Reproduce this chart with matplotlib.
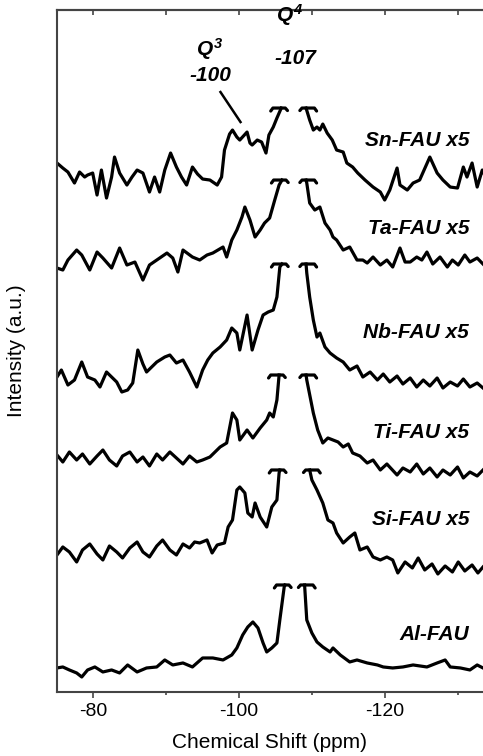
import matplotlib.pyplot as plt
from matplotlib.ticker import MultipleLocator

plt.rcParams['font.family'] = ['Liberation Sans', 'DejaVu Sans']
plt.rcParams['axes.unicode_minus'] = False
plt.rcParams['mathtext.fontset'] = 'custom'
plt.rcParams['mathtext.rm'] = 'Liberation Sans:bold:italic'
plt.rcParams['mathtext.it'] = 'Liberation Sans:bold:italic'

# 29Si MAS NMR, stacked traces (intensity in a.u., stacking offset included).
# Each trace is split at the truncated Q4 peak: left part / right part.
sn_lx = [-75.0, -75.8, -76.5, -77.4, -78.1, -78.8, -79.2, -79.9, -80.5, -81.1, -81.8, -82.5, -82.9,
         -83.6, -84.6, -85.3, -86.0, -86.8, -87.7, -88.4, -89.1, -89.8, -90.6, -91.4, -92.1, -92.8,
         -93.6, -94.3, -95.0, -96.0, -97.0, -97.6, -98.0, -98.7, -99.1, -99.7, -100.1, -101.1,
         -101.5, -101.8, -102.5, -103.1, -103.7, -104.1, -104.7, -105.2, -105.8]
sn_ly = [529, 524, 520, 509, 520, 515, 517, 519, 497, 522, 494, 515, 535,
         519, 507, 515, 522, 519, 500, 515, 500, 522, 539, 525, 515, 507,
         525, 518, 513, 512, 507, 515, 542, 558, 562, 555, 552, 560,
         549, 547, 552, 550, 539, 557, 565, 574, 584]
sn_rx = [-109.2, -109.7, -110.2, -110.7, -111.1, -111.5, -112.1, -112.8, -113.4, -114.3, -114.8,
         -115.6, -116.3, -117.3, -118.4, -119.4, -120.0, -120.7, -121.7, -122.1, -123.1, -123.9,
         -124.8, -126.2, -127.2, -128.0, -129.0, -130.0, -130.8, -131.3, -132.0, -132.7, -133.4, -133.9]
sn_ry = [584, 572, 562, 565, 562, 568, 559, 552, 542, 540, 529,
         525, 519, 512, 505, 500, 492, 502, 524, 507, 502, 509,
         512, 535, 519, 512, 505, 504, 525, 515, 529, 505, 522, 515]

ta_lx = [-75.0, -75.8, -76.5, -77.7, -78.4, -79.5, -80.5, -81.3, -82.5, -83.6, -84.6, -85.7, -86.8,
         -87.7, -88.7, -90.1, -90.9, -91.6, -92.3, -93.6, -94.6, -95.6, -96.4, -97.8, -98.3, -99.0,
         -99.7, -100.4, -100.8, -101.5, -102.2, -102.9, -103.5, -104.2, -104.9, -105.5, -105.9]
ta_ly = [424, 422, 432, 442, 437, 422, 440, 434, 424, 444, 427, 430, 412,
         427, 432, 439, 434, 420, 442, 435, 432, 437, 439, 445, 435, 452,
         462, 475, 485, 472, 455, 462, 469, 474, 492, 507, 512]
ta_rx = [-109.2, -109.3, -109.7, -110.4, -111.1, -111.8, -112.5, -112.9, -113.4, -114.3, -115.2,
         -116.2, -117.0, -117.6, -118.4, -119.4, -120.3, -121.1, -122.1, -122.8, -123.5, -124.4,
         -125.1, -125.8, -126.6, -127.6, -128.6, -129.3, -130.1, -131.0, -131.7, -132.7, -133.5]
ta_ry = [512, 509, 489, 482, 485, 469, 462, 455, 452, 442, 445,
         432, 432, 429, 435, 427, 432, 425, 444, 430, 430, 435,
         432, 440, 428, 435, 425, 432, 427, 437, 430, 434, 428]

nb_lx = [-75.0, -75.6, -76.5, -77.4, -78.4, -79.2, -80.2, -80.9, -81.8, -82.5, -83.2, -83.9, -84.7,
         -85.4, -86.1, -86.8, -87.3, -88.0, -88.7, -89.8, -90.5, -91.4, -92.3, -93.2, -94.2, -95.0,
         -95.7, -96.4, -97.4, -98.3, -99.0, -99.7, -100.1, -101.1, -101.8, -102.6, -103.3, -104.0,
         -104.7, -105.2, -105.6, -105.9]
nb_ly = [315, 322, 307, 312, 330, 315, 312, 305, 320, 315, 310, 300, 302,
         309, 342, 328, 320, 325, 330, 335, 337, 329, 332, 320, 305, 322,
         332, 339, 345, 352, 364, 359, 342, 377, 342, 362, 377, 380,
         382, 395, 425, 428]
nb_rx = [-109.2, -109.3, -109.7, -110.2, -110.7, -111.1, -111.8, -112.5, -113.4, -114.3, -115.2,
         -116.2, -117.0, -118.0, -119.0, -119.8, -120.7, -121.7, -122.5, -123.5, -124.4, -125.3,
         -126.2, -127.2, -128.0, -129.0, -130.0, -130.8, -131.7, -132.7, -133.5]
nb_ry = [428, 419, 395, 372, 355, 359, 345, 339, 334, 330, 322,
         326, 315, 320, 312, 318, 310, 316, 308, 314, 305, 312,
         306, 314, 304, 310, 306, 313, 305, 309, 304]

ti_lx = [-75.0, -75.8, -76.7, -77.7, -78.5, -79.5, -80.5, -81.3, -82.2, -83.2, -84.0, -85.0, -86.0,
         -86.8, -87.7, -88.7, -89.5, -90.5, -91.4, -92.3, -93.2, -94.2, -95.0, -96.0, -97.4, -98.3,
         -99.1, -99.7, -100.1, -101.1, -101.9, -102.9, -103.8, -104.2, -104.7, -105.2, -105.5]
ti_ly = [237, 230, 240, 232, 238, 228, 236, 242, 232, 226, 236, 240, 230,
         235, 226, 238, 232, 240, 234, 228, 236, 230, 232, 235, 245, 249,
         279, 272, 252, 262, 254, 264, 272, 279, 275, 292, 317]
ti_rx = [-109.2, -109.3, -110.2, -110.8, -111.5, -112.2, -112.9, -113.6, -114.3, -115.0, -115.6,
         -116.6, -117.6, -118.4, -119.4, -120.3, -121.7, -122.5, -123.5, -124.4, -125.3, -126.2,
         -127.2, -128.0, -129.0, -130.0, -130.8, -131.7, -132.7, -133.5]
ti_ry = [317, 312, 279, 262, 249, 254, 252, 250, 245, 248, 239,
         236, 229, 232, 222, 228, 217, 224, 220, 228, 218, 224,
         215, 222, 217, 225, 214, 220, 216, 222]

si_lx = [-75.0, -75.8, -76.7, -77.7, -78.5, -79.5, -80.5, -81.3, -82.2, -83.2, -84.0, -85.0, -86.0,
         -86.8, -87.7, -88.7, -89.5, -90.5, -91.4, -92.3, -93.2, -93.9, -94.6, -95.6, -96.3, -97.0,
         -98.0, -98.5, -99.1, -99.7, -100.1, -100.8, -101.2, -101.8, -102.2, -102.9, -103.8, -104.5,
         -105.2, -105.5, -105.6]
si_ly = [137, 145, 140, 130, 142, 148, 138, 132, 146, 140, 134, 144, 150,
         140, 135, 146, 152, 142, 137, 148, 144, 150, 149, 152, 139, 147,
         149, 165, 172, 202, 205, 199, 179, 175, 189, 175, 165, 185,
         192, 219, 222]
si_rx = [-109.7, -110.0, -110.7, -111.5, -112.2, -112.9, -113.4, -114.3, -115.2, -115.9, -116.6,
         -117.6, -118.4, -119.4, -120.3, -121.1, -121.8, -122.8, -123.8, -124.6, -125.5, -126.5,
         -127.3, -128.3, -129.3, -130.1, -131.0, -132.0, -132.8, -133.5]
si_ry = [222, 212, 202, 189, 172, 169, 159, 149, 155, 159, 142,
         145, 135, 132, 135, 132, 119, 130, 124, 134, 122, 128,
         118, 126, 120, 130, 121, 127, 119, 125]

al_lx = [-75.0, -75.8, -76.7, -77.7, -78.4, -79.2, -80.2, -81.3, -82.5, -83.6, -84.7, -86.0, -87.3,
         -88.7, -89.8, -90.9, -92.3, -93.6, -95.0, -96.4, -97.8, -99.0, -99.7, -100.5, -101.2,
         -101.9, -102.6, -103.3, -103.8, -104.5, -105.2, -105.6, -106.2, -106.3]
al_ly = [24, 25, 22, 19, 15, 22, 25, 20, 22, 19, 27, 20, 24,
         25, 32, 27, 29, 25, 34, 34, 32, 37, 44, 57, 65,
         70, 64, 49, 40, 44, 49, 72, 105, 107]
al_rx = [-109.0, -109.3, -110.0, -110.7, -111.5, -112.5, -112.9, -113.9, -115.2, -116.2, -117.6,
         -119.0, -119.8, -121.1, -122.5, -123.9, -125.8, -127.2, -128.3, -129.0, -130.4, -131.7,
         -132.7, -133.5]
al_ry = [107, 72, 59, 50, 45, 40, 44, 37, 30, 32, 29,
         27, 25, 24, 25, 27, 25, 29, 32, 25, 24, 22,
         27, 24]

traces = [
    ('Sn-FAU x5', sn_lx, sn_ly, sn_rx, sn_ry, 552),
    ('Ta-FAU x5', ta_lx, ta_ly, ta_rx, ta_ry, 464),
    ('Nb-FAU x5', nb_lx, nb_ly, nb_rx, nb_ry, 360),
    ('Ti-FAU x5', ti_lx, ti_ly, ti_rx, ti_ry, 260),
    ('Si-FAU x5', si_lx, si_ly, si_rx, si_ry, 172),
    ('Al-FAU', al_lx, al_ly, al_rx, al_ry, 57),
]

fig = plt.figure(figsize=(4.83, 7.56), dpi=100)
ax = fig.add_axes([0.118, 0.0847, 0.882, 0.902])

lw = 2.3
for name, lx, ly, rx, ry, ylab in traces:
    ax.plot(lx, ly, color='black', lw=lw, solid_joinstyle='round')
    ax.plot(rx, ry, color='black', lw=lw, solid_joinstyle='round')
    # little hooks marking where the Q4 peak is cut off
    x0, y0 = lx[-1], ly[-1]
    ax.plot([x0 + 1.45, x0 + 1.15, x0 - 0.55, x0 - 0.85], [y0 - 3, y0, y0, y0 - 2.5],
            color='black', lw=lw, solid_capstyle='round')
    x1, y1 = rx[0], ry[0]
    ax.plot([x1 + 0.85, x1 + 0.55, x1 - 1.15, x1 - 1.45], [y1 - 2.5, y1, y1, y1 - 3],
            color='black', lw=lw, solid_capstyle='round')
    ax.text(-131.6, ylab, name, ha='right', va='center', fontsize=15,
            fontweight='bold', fontstyle='italic')

# peak assignments
lab = dict(ha='center', va='center', fontsize=15, fontweight='bold', fontstyle='italic')
ax.text(-96.0, 643, '$Q^3$', **lab)
ax.text(-96.0, 617, '-100', **lab)
ax.text(-107.0, 677, '$Q^4$', clip_on=False, **lab)
ax.text(-107.8, 634, '-107', **lab)
ax.plot([-97.45, -100.2], [600, 570], color='black', lw=1.8)

ax.set_xlim(-75, -133.5)
ax.set_ylim(0, 682)
ax.set_yticks([])
ax.xaxis.set_major_locator(MultipleLocator(20))
ax.xaxis.set_minor_locator(MultipleLocator(10))
ax.tick_params(axis='x', which='major', direction='out', length=4, width=1.2,
               labelsize=14, pad=4, color='#444444')
ax.tick_params(axis='x', which='minor', direction='out', length=2.5, width=1.2,
               color='#444444')

# inward ticks along the top edge
top = ax.secondary_xaxis('top')
top.xaxis.set_major_locator(MultipleLocator(10))
top.tick_params(direction='in', length=3.5, width=1.2, color='#444444',
                labeltop=False)
top.spines['top'].set_linewidth(1.5)
top.spines['top'].set_color('#444444')

for side in ['left', 'bottom', 'top']:
    ax.spines[side].set_linewidth(1.5)
    ax.spines[side].set_color('#444444')
ax.spines['right'].set_visible(False)

ax.set_xlabel('Chemical Shift (ppm)', fontsize=15, labelpad=9)
ax.set_ylabel('Intensity (a.u.)', fontsize=15, labelpad=22,
              family=['Liberation Sans Narrow', 'Liberation Sans'])

fig.savefig('out.png', dpi=100)
